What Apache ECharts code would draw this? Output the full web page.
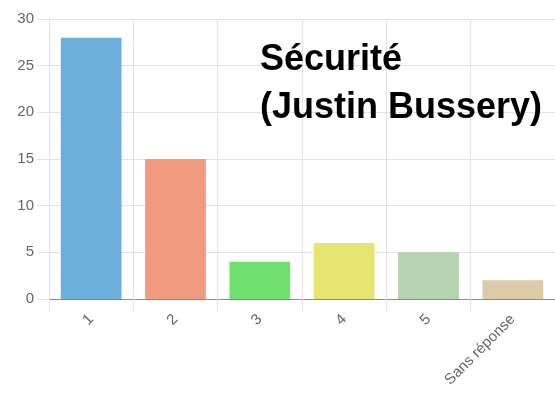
<!DOCTYPE html>
<html><head><meta charset="utf-8">
<script src="https://cdn.jsdelivr.net/npm/echarts@6/dist/echarts.min.js"></script>
<style>html,body{margin:0;padding:0;background:#fff}#c{width:555px;height:400px}</style>
</head><body><div id="c"></div>
<script>
const categories = ['1', '2', '3', '4', '5', 'Sans réponse'];
const values = [28, 15, 4, 6, 5, 2];
const colors = ['#6cafdd', '#f09b7f', '#6fdf70', '#e5e570', '#b5d2b1', '#ddcaa9'];
const titleLines = ['Sécurité', '(Justin Bussery)'];

const chart = echarts.init(document.getElementById('c'), null, {renderer: 'canvas'});
chart.setOption({
  animation: false,
  title: {
    text: titleLines.join('\n'),
    left: 255, top: 31,
    textStyle: {fontFamily: 'Liberation Sans, Arial', fontWeight: 'bold', fontSize: 36, lineHeight: 48, color: '#000'}
  },
  grid: {left: 49, top: 19, width: 509, height: 280},
  xAxis: {
    type: 'category', data: categories,
    axisLine: {lineStyle: {color: '#8a8a8a', width: 1}},
    axisTick: {show: true, length: 11, lineStyle: {color: '#e4dede'}},
    splitLine: {show: true, lineStyle: {color: '#e4e2e2'}},
    axisLabel: {rotate: 45, margin: 18, color: '#666', fontSize: 15, fontFamily: 'Liberation Sans, Arial'}
  },
  yAxis: {
    type: 'value', min: 0, max: 30, interval: 5,
    axisLine: {show: true, lineStyle: {color: '#e4dede'}},
    axisTick: {show: true, length: 12, lineStyle: {color: '#e4e2e2'}},
    splitLine: {show: true, lineStyle: {color: '#e4e2e2'}},
    axisLabel: {margin: 15, color: '#666', fontSize: 15, fontFamily: 'Liberation Sans, Arial'}
  },
  series: [{
    type: 'bar',
    data: values.map((v, i) => ({value: v, itemStyle: {color: colors[i]}})),
    barCategoryGap: '28%'
  }]
});
</script></body></html>
